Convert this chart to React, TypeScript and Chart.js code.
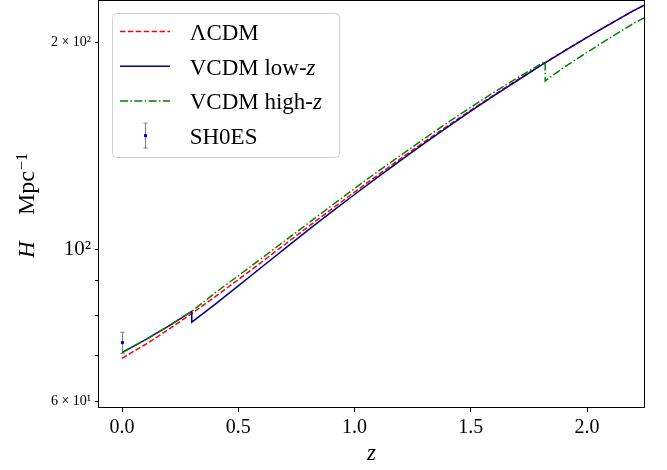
import React, { useEffect, useRef } from "react";
import { Chart, registerables } from "chart.js";

Chart.register(...registerables);

// ---------- data ----------
const xTicks = [0, 0.5, 1.0, 1.5, 2.0];
const yTicks = [60, 70, 80, 90, 100, 200];
const yTickLabels = ["6 × 10¹", "", "", "", "10²", "2 × 10²"];

const lcdmZ = [0, 0.1, 0.2, 0.3, 0.4, 0.5, 0.6, 0.7, 0.8, 0.9, 1.0, 1.1, 1.2, 1.3, 1.4, 1.5, 1.6, 1.7, 1.8, 1.9, 2.0, 2.1, 2.2, 2.25];
const lcdmH = [69.35, 72.64, 76.39, 80.6, 85.25, 90.31, 95.77, 101.61, 107.79, 114.31, 121.13, 128.26, 135.67, 143.34, 151.26, 159.43, 167.83, 176.46, 185.3, 194.34, 203.59, 213.03, 222.66, 227.05];

const lowZ_z = [0, 0.1, 0.2, 0.3, 0.3, 0.4, 0.5, 0.6, 0.7, 0.8, 0.9, 1.0, 1.1, 1.2, 1.3, 1.4, 1.5, 1.6, 1.7, 1.8, 1.9, 2.0, 2.1, 2.2, 2.25];
const lowZ_H = [70.7, 73.77, 77.27, 81.2, 78.3, 83.12, 88.41, 94.14, 100.19, 106.6, 113.28, 120.16, 127.36, 134.86, 142.62, 150.65, 158.95, 167.49, 176.11, 185.11, 194.24, 203.6, 213.0, 222.7, 227.1];

const highZ_z = [0, 0.1, 0.2, 0.3, 0.4, 0.5, 0.6, 0.7, 0.8, 0.9, 1.0, 1.1, 1.2, 1.3, 1.4, 1.5, 1.6, 1.7, 1.8, 1.82, 1.82, 1.9, 2.0, 2.1, 2.2, 2.25];
const highZ_H = [70.7, 73.77, 77.27, 81.2, 86.36, 91.48, 97.01, 102.83, 109.08, 115.68, 122.58, 129.8, 137.16, 144.92, 152.92, 161.02, 169.34, 177.7, 186.04, 187.6, 175.9, 184.04, 193.6, 203.4, 213.3, 217.7];

const sh0esZ = [0];
const sh0esH = [73.1];
const sh0esErr = [2.6];

const legendLabels = ["ΛCDM", "VCDM low-", "VCDM high-", "SH0ES"];
const legendItalic = ["", "z", "z", ""];

// ---------- styles ----------
const SERIF = '"Liberation Serif", "Times New Roman", serif';
const RED = "#ff0000";
const BLUE = "#00008b";
const GREEN = "#008000";
const RED_DASH = [5.5, 2.4];
const GREEN_DASH = [8, 2.4, 1.5, 2.4];

const pts = (xs: number[], ys: number[]) => xs.map((x, i) => ({ x, y: ys[i] }));

export default function App() {
  const ref = useRef<HTMLCanvasElement>(null);

  useEffect(() => {
    document.body.style.margin = "0";
    const canvas = ref.current!;

    const drawErr = (ctx: CanvasRenderingContext2D, px: number, top: number, bot: number) => {
      ctx.beginPath();
      ctx.moveTo(px, top);
      ctx.lineTo(px, bot);
      ctx.moveTo(px - 2, top);
      ctx.lineTo(px + 2, top);
      ctx.moveTo(px - 2, bot);
      ctx.lineTo(px + 2, bot);
      ctx.stroke();
    };

    const decor = {
      id: "decor",
      beforeDatasetsDraw(chart: any) {
        const { ctx, scales } = chart;
        const x = scales.x, y = scales.y;
        ctx.save();
        ctx.strokeStyle = "#808080";
        ctx.lineWidth = 1;
        sh0esZ.forEach((z, i) => {
          const px = Math.round(x.getPixelForValue(z)) + 0.5;
          const top = y.getPixelForValue(sh0esH[i] + sh0esErr[i]);
          const bot = y.getPixelForValue(sh0esH[i] - sh0esErr[i]);
          drawErr(ctx, px, top, bot);
        });
        ctx.restore();
      },
      afterDatasetsDraw(chart: any) {
        const { ctx, scales } = chart;
        const x = scales.x, y = scales.y;
        ctx.save();
        ctx.fillStyle = "blue";
        sh0esZ.forEach((z, i) => {
          const px = Math.round(x.getPixelForValue(z)) + 0.5;
          const py = y.getPixelForValue(sh0esH[i]);
          ctx.fillRect(px - 1.5, py - 1.5, 3, 3);
        });
        ctx.restore();
      },
      afterDraw(chart: any) {
        const { ctx, chartArea: ca } = chart;
        ctx.save();
        // frame
        ctx.strokeStyle = "#000";
        ctx.lineWidth = 1;
        ctx.setLineDash([]);
        ctx.strokeRect(ca.left - 0.5, ca.top - 0.5, ca.right - ca.left + 1, ca.bottom - ca.top + 1);

        // legend
        const L = ca.left, T = ca.top;
        ctx.beginPath();
        (ctx as any).roundRect(L + 13.5, T + 12.5, 227, 144, 4);
        ctx.fillStyle = "rgba(255,255,255,0.8)";
        ctx.fill();
        ctx.strokeStyle = "#d0d0d0";
        ctx.stroke();

        const colors = [RED, BLUE, GREEN, ""];
        const dashes = [RED_DASH, [], GREEN_DASH, []];
        legendLabels.forEach((lab, i) => {
          const base = T + 39 + i * 34.7;
          const ly = base - 8.5;
          if (i < 3) {
            ctx.strokeStyle = colors[i];
            ctx.lineWidth = 1.5;
            ctx.setLineDash(dashes[i]);
            ctx.beginPath();
            ctx.moveTo(L + 21, ly);
            ctx.lineTo(L + 71, ly);
            ctx.stroke();
            ctx.setLineDash([]);
          } else {
            ctx.strokeStyle = "#808080";
            ctx.lineWidth = 1;
            drawErr(ctx, L + 46.5, ly - 12.5, ly + 12.5);
            ctx.fillStyle = "blue";
            ctx.fillRect(L + 45, ly - 1.5, 3, 3);
          }
          ctx.fillStyle = "#000";
          ctx.textBaseline = "alphabetic";
          ctx.textAlign = "left";
          ctx.font = `23px ${SERIF}`;
          const tx = L + 90.7;
          ctx.fillText(lab, tx, base);
          if (legendItalic[i]) {
            const w = ctx.measureText(lab).width;
            ctx.font = `italic 23px ${SERIF}`;
            ctx.fillText(legendItalic[i], tx + w, base);
          }
        });

        // x title
        ctx.fillStyle = "#000";
        ctx.font = `italic 23px ${SERIF}`;
        ctx.textAlign = "center";
        ctx.textBaseline = "alphabetic";
        ctx.fillText("z", (ca.left + ca.right) / 2, 460);

        // y title
        ctx.save();
        ctx.translate(33.5, 258);
        ctx.rotate(-Math.PI / 2);
        ctx.textAlign = "left";
        ctx.font = `italic 23px ${SERIF}`;
        ctx.fillText("H", 0, 0);
        ctx.font = `24px ${SERIF}`;
        ctx.fillText("Mpc", 43, 0);
        const w = ctx.measureText("Mpc").width;
        ctx.font = `16px ${SERIF}`;
        ctx.fillText("−1", 43 + w + 1, -7);
        ctx.restore();

        ctx.restore();
      },
    };

    const lineDs = (label: string, xs: number[], ys: number[], color: string, dash: number[], order: number) => ({
      label,
      data: pts(xs, ys),
      borderColor: color,
      borderWidth: 1.5,
      borderDash: dash,
      pointRadius: 0,
      pointHoverRadius: 0,
      pointBorderWidth: 0,
      tension: 0,
      fill: false,
      order,
    });

    const chart = new Chart(canvas, {
      type: "line",
      data: {
        datasets: [
          lineDs("VCDM high-z", highZ_z, highZ_H, GREEN, GREEN_DASH, 1),
          lineDs("VCDM low-z", lowZ_z, lowZ_H, BLUE, [], 2),
          lineDs("ΛCDM", lcdmZ, lcdmH, RED, RED_DASH, 3),
        ],
      } as any,
      options: {
        animation: false,
        responsive: false,
        devicePixelRatio: 1,
        events: [],
        layout: { padding: { left: 0, top: 1, right: 23, bottom: 0 } },
        plugins: { legend: { display: false }, tooltip: { enabled: false } },
        scales: {
          x: {
            type: "linear",
            min: -0.099,
            max: 2.245,
            afterBuildTicks: (s: any) => {
              s.ticks = xTicks.map((v) => ({ value: v }));
            },
            afterFit: (s: any) => {
              s.height = 63;
              s.paddingLeft = 0;
              s.paddingRight = 0;
            },
            ticks: {
              callback: (v: any) => Number(v).toFixed(1),
              font: { family: SERIF, size: 20 },
              color: "#000",
              padding: 4,
              maxRotation: 0,
              autoSkip: false,
            },
            grid: { display: true, drawOnChartArea: false, drawTicks: true, tickLength: 5, color: "#000", lineWidth: 1 },
            border: { display: false },
          },
          y: {
            type: "logarithmic",
            min: 58.9,
            max: 230,
            afterBuildTicks: (s: any) => {
              s.ticks = yTicks.map((v) => ({ value: v }));
            },
            afterFit: (s: any) => {
              s.width = 99;
              s.paddingTop = 0;
              s.paddingBottom = 0;
            },
            ticks: {
              callback: (v: any) => {
                const i = yTicks.findIndex((t) => Math.abs(t - Number(v)) < 1e-6);
                return i >= 0 ? yTickLabels[i] : "";
              },
              font: (c: any) => ({ family: SERIF, size: c.tick && c.tick.value === 100 ? 21 : 14 }),
              color: "#000",
              padding: 4,
              autoSkip: false,
            },
            grid: { display: true, drawOnChartArea: false, drawTicks: true, tickLength: 4, color: "#000", lineWidth: 1 },
            border: { display: false },
          },
        },
      } as any,
      plugins: [decor],
    });

    return () => chart.destroy();
  }, []);

  return <canvas ref={ref} width={667} height={470} style={{ display: "block", width: 667, height: 470 }} />;
}
